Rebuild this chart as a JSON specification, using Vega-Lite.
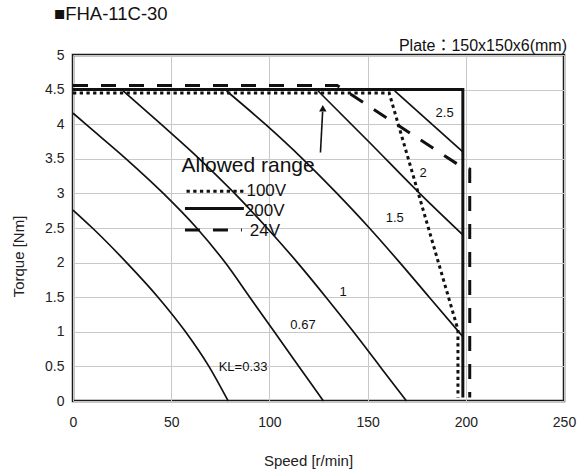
{
  "$schema": "https://vega.github.io/schema/vega-lite/v6.json",
  "width": 491,
  "height": 346,
  "autosize": {"type": "none"},
  "padding": {"left": 73, "top": 55, "right": 15, "bottom": 72},
  "background": "white",
  "title": {"text": "■FHA-11C-30", "anchor": "start", "frame": "group", "dx": -19, "offset": 15, "fontSize": 18.5, "fontWeight": "normal", "font": "Liberation Sans, Noto Sans CJK JP", "color": "#111"},
  "config": {
    "view": {"stroke": "#1a1a1a", "strokeWidth": 2.5},
    "axis": {"labelFont": "Liberation Sans", "titleFont": "Liberation Sans", "labelFontSize": 14, "titleFontSize": 15, "titleFontWeight": "normal", "labelColor": "#222", "titleColor": "#222", "gridColor": "#c8c8c8", "gridWidth": 1, "domain": false, "ticks": false, "tickSize": 0, "labelOverlap": false, "labelFlush": false},
    "text": {"font": "Liberation Sans, Noto Sans CJK JP", "color": "#111"}
  },
  "datasets": {
    "kl": [
      {"KL": "0.33", "speed": 0, "torque": 2.76}, {"KL": "0.33", "speed": 9.9, "torque": 2.5}, {"KL": "0.33", "speed": 27.3, "torque": 2.0}, {"KL": "0.33", "speed": 43.3, "torque": 1.5}, {"KL": "0.33", "speed": 57.3, "torque": 1.0}, {"KL": "0.33", "speed": 69.2, "torque": 0.5}, {"KL": "0.33", "speed": 79, "torque": 0},
      {"KL": "0.67", "speed": 0, "torque": 4.16}, {"KL": "0.67", "speed": 6.5, "torque": 4.0}, {"KL": "0.67", "speed": 27, "torque": 3.5}, {"KL": "0.67", "speed": 46, "torque": 3.0}, {"KL": "0.67", "speed": 63, "torque": 2.5}, {"KL": "0.67", "speed": 77.5, "torque": 2.0}, {"KL": "0.67", "speed": 90, "torque": 1.5}, {"KL": "0.67", "speed": 102.5, "torque": 1.0}, {"KL": "0.67", "speed": 115, "torque": 0.5}, {"KL": "0.67", "speed": 127.5, "torque": 0},
      {"KL": "1", "speed": 25.6, "torque": 4.48}, {"KL": "1", "speed": 44.8, "torque": 4.0}, {"KL": "1", "speed": 64.3, "torque": 3.5}, {"KL": "1", "speed": 82.3, "torque": 3.0}, {"KL": "1", "speed": 98.8, "torque": 2.5}, {"KL": "1", "speed": 114.3, "torque": 2.0}, {"KL": "1", "speed": 128.8, "torque": 1.5}, {"KL": "1", "speed": 142.8, "torque": 1.0}, {"KL": "1", "speed": 156.3, "torque": 0.5}, {"KL": "1", "speed": 169.8, "torque": 0},
      {"KL": "1.5", "speed": 78.2, "torque": 4.48}, {"KL": "1.5", "speed": 97.9, "torque": 4.0}, {"KL": "1.5", "speed": 116.9, "torque": 3.5}, {"KL": "1.5", "speed": 134.4, "torque": 3.0}, {"KL": "1.5", "speed": 150.9, "torque": 2.5}, {"KL": "1.5", "speed": 166.4, "torque": 2.0}, {"KL": "1.5", "speed": 181.4, "torque": 1.5}, {"KL": "1.5", "speed": 198.5, "torque": 0.93},
      {"KL": "2", "speed": 124.8, "torque": 4.48}, {"KL": "2", "speed": 150.5, "torque": 3.75}, {"KL": "2", "speed": 176.5, "torque": 3.0}, {"KL": "2", "speed": 198.5, "torque": 2.4},
      {"KL": "2.5", "speed": 163.8, "torque": 4.48}, {"KL": "2.5", "speed": 198.5, "torque": 3.6}
    ],
    "limits": [
      {"series": "100V", "role": "limit", "speed": 0, "torque": 4.45}, {"series": "100V", "role": "limit", "speed": 161, "torque": 4.45}, {"series": "100V", "role": "limit", "speed": 196, "torque": 1.03}, {"series": "100V", "role": "limit", "speed": 196, "torque": 0.05},
      {"series": "200V", "role": "limit", "speed": 0, "torque": 4.5}, {"series": "200V", "role": "limit", "speed": 198.5, "torque": 4.5}, {"series": "200V", "role": "limit", "speed": 198.5, "torque": 0.05},
      {"series": "24V", "role": "limit", "speed": 0, "torque": 4.56}, {"series": "24V", "role": "limit", "speed": 134.5, "torque": 4.56}, {"series": "24V", "role": "limit", "speed": 197, "torque": 3.4}, {"series": "24V", "role": "limit", "speed": 202, "torque": 3.35}, {"series": "24V", "role": "limit", "speed": 202, "torque": 0.05},
      {"series": "100V", "role": "legend", "speed": 57.8, "torque": 3.03}, {"series": "100V", "role": "legend", "speed": 87.5, "torque": 3.03},
      {"series": "200V", "role": "legend", "speed": 57, "torque": 2.78}, {"series": "200V", "role": "legend", "speed": 87, "torque": 2.78},
      {"series": "24V", "role": "legend", "speed": 57, "torque": 2.47}, {"series": "24V", "role": "legend", "speed": 86, "torque": 2.47}
    ],
    "kllabels": [
      {"label": "KL=0.33", "speed": 86.6, "torque": 0.49},
      {"label": "0.67", "speed": 117.1, "torque": 1.1},
      {"label": "1", "speed": 137.5, "torque": 1.58},
      {"label": "1.5", "speed": 163.8, "torque": 2.65},
      {"label": "2", "speed": 178.2, "torque": 3.29},
      {"label": "2.5", "speed": 189.2, "torque": 4.16}
    ],
    "legendlabels": [
      {"label": "100V", "speed": 88.3, "torque": 2.96},
      {"label": "200V", "speed": 87.5, "torque": 2.68},
      {"label": "24V", "speed": 90, "torque": 2.38}
    ]
  },
  "encoding": {
    "x": {"field": "speed", "type": "quantitative", "scale": {"domain": [0, 250], "nice": false, "padding": 0, "zero": false}, "axis": {"values": [0, 50, 100, 150, 200, 250], "title": "Speed [r/min]", "labelPadding": 14, "titleX": 235, "titleY": 59, "titleBaseline": "middle", "grid": true}},
    "y": {"field": "torque", "type": "quantitative", "scale": {"domain": [0, 5], "nice": false, "padding": 0, "zero": false}, "axis": {"values": [0, 0.5, 1, 1.5, 2, 2.5, 3, 3.5, 4, 4.5, 5], "format": "~g", "title": "Torque [Nm]", "labelPadding": 9, "titleX": -55, "titleY": 201, "titleAlign": "center", "titleBaseline": "middle", "grid": true}}
  },
  "layer": [
    {
      "data": {"name": "kl"},
      "mark": {"type": "line", "color": "#111", "strokeWidth": 1.7, "interpolate": "monotone"},
      "encoding": {
        "detail": {"field": "KL"},
        "order": {"value": null}
      }
    },
    {
      "data": {"name": "limits"},
      "mark": {"type": "line", "color": "#111", "strokeCap": "butt"},
      "encoding": {
        "strokeDash": {"field": "series", "scale": {"domain": ["100V", "200V", "24V"], "range": [[3.3, 3.4], [1, 0], [15, 13]]}, "legend": null},
        "strokeWidth": {"field": "series", "scale": {"domain": ["100V", "200V", "24V"], "range": [3, 3, 4]}, "legend": null},
        "detail": {"field": "role"},
        "order": {"value": null}
      }
    },
    {
      "data": {"values": [{"speed": 126, "torque": 3.59, "speed2": 127.1, "torque2": 4.18}]},
      "mark": {"type": "rule", "color": "#111", "strokeWidth": 1.6},
      "encoding": {
        "x2": {"field": "speed2"},
        "y2": {"field": "torque2"}
      }
    },
    {
      "data": {"values": [{"speed": 127.2, "torque": 4.23}]},
      "mark": {"type": "point", "shape": "triangle-up", "filled": true, "color": "#111", "size": 55, "opacity": 1},
      "encoding": {}
    },
    {
      "data": {"name": "kllabels"},
      "mark": {"type": "text", "fontSize": 13, "align": "center", "baseline": "middle"},
      "encoding": {"text": {"field": "label"}}
    },
    {
      "data": {"values": [{"label": "Allowed range", "speed": 55.3, "torque": 3.31}]},
      "mark": {"type": "text", "fontSize": 21, "align": "left", "baseline": "alphabetic"},
      "encoding": {"text": {"field": "label"}}
    },
    {
      "data": {"name": "legendlabels"},
      "mark": {"type": "text", "fontSize": 17, "align": "left", "baseline": "alphabetic"},
      "encoding": {"text": {"field": "label"}}
    },
    {
      "data": {"values": [{"label": "Plate：150x150x6(mm)", "speed": 250, "torque": 5}]},
      "mark": {"type": "text", "fontSize": 16, "align": "right", "baseline": "middle", "dx": 3, "dy": -9},
      "encoding": {"text": {"field": "label"}}
    }
  ]
}
